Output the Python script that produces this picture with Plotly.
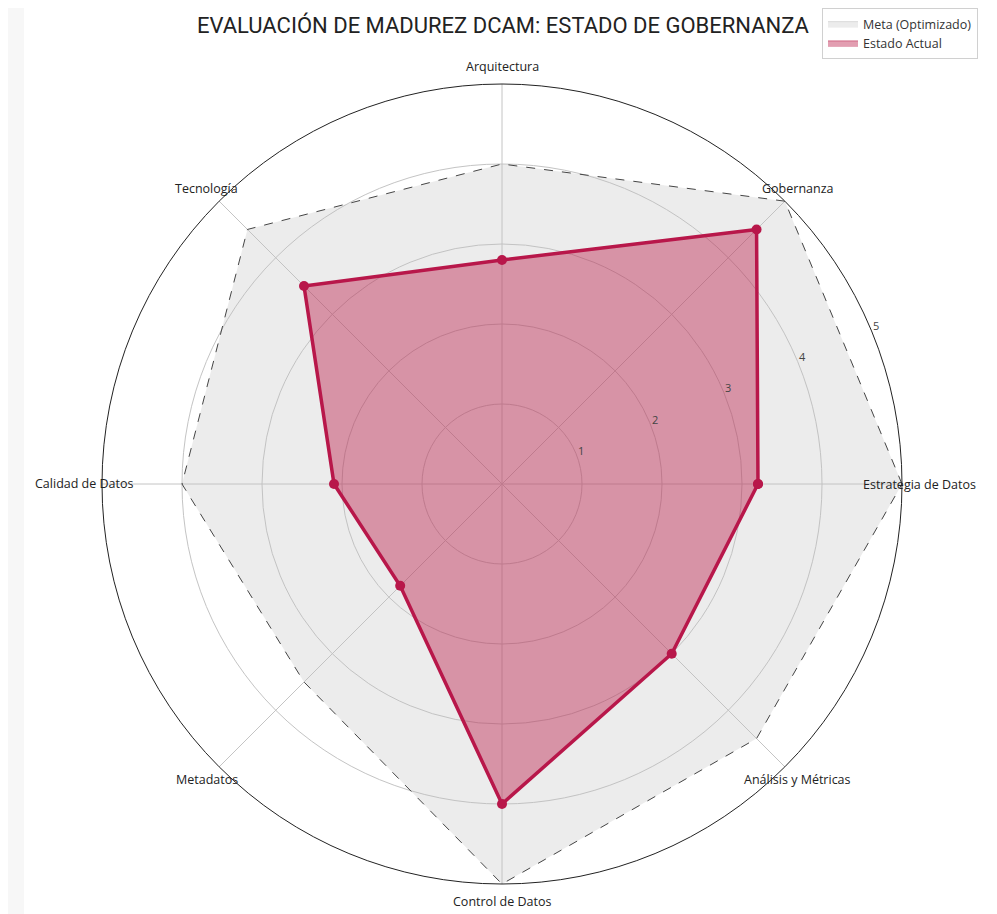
import math
import plotly.graph_objects as go

categories = ["Estrategia de Datos", "Gobernanza", "Arquitectura", "Tecnología",
              "Calidad de Datos", "Metadatos", "Control de Datos", "Análisis y Métricas"]
meta_values = [5.0, 5.0, 4.0, 4.5, 4.0, 3.5, 5.0, 4.5]
actual_values = [3.2, 4.5, 2.8, 3.5, 2.1, 1.8, 4.0, 3.0]
radial_ticks = [1, 2, 3, 4, 5]

title_text = "EVALUACIÓN DE MADUREZ DCAM: ESTADO DE GOBERNANZA"
TITLE_FONT = "Roboto"
FONT = "Open Sans"
W, H = 997, 914
OFF = 8  # page body margin offset
CRIMSON = "#B8174A"
R_MAX = 5.0

# polar placement (figure pixels)
cx_px, cy_px, rad_px = 502 - OFF, 484 - OFF, 400

fig = go.Figure()

theta_closed = categories + [categories[0]]

fig.add_trace(go.Scatterpolar(
    r=meta_values + [meta_values[0]], theta=theta_closed,
    mode="lines", fill="toself",
    fillcolor="rgba(191,191,191,0.30)",
    line=dict(color="#444444", width=1, dash="dash"),
    name="Meta (Optimizado)", showlegend=False, hoverinfo="skip"))

fig.add_trace(go.Scatterpolar(
    r=actual_values + [actual_values[0]], theta=theta_closed,
    mode="lines+markers", fill="toself",
    fillcolor="rgba(186,24,70,0.42)",
    line=dict(color=CRIMSON, width=3.5),
    marker=dict(color=CRIMSON, size=10),
    name="Estado Actual", showlegend=False))

# legend-only entries (patch style)
fig.add_trace(go.Scatterpolar(
    r=[None], theta=[None], mode="lines", fill="toself",
    fillcolor="rgba(191,191,191,0.30)", line=dict(color="rgba(191,191,191,0.5)", width=1),
    name="Meta (Optimizado)"))
fig.add_trace(go.Scatterpolar(
    r=[None], theta=[None], mode="lines", fill="toself",
    fillcolor="rgba(186,24,70,0.42)", line=dict(color="rgba(186,24,70,0.5)", width=1),
    name="Estado Actual"))

dom_x = [(cx_px - rad_px) / W, (cx_px + rad_px) / W]
dom_y = [(H - cy_px - rad_px) / H, (H - cy_px + rad_px) / H]

fig.update_layout(
    width=W, height=H,
    margin=dict(l=0, r=0, t=0, b=0),
    paper_bgcolor="#f7f7f7",
    plot_bgcolor="white",
    font=dict(family=FONT, color="#333333", size=12),
    title=dict(text=title_text, x=(503 - OFF) / W, xanchor="center",
               y=1 - (25 - OFF) / H, yanchor="middle",
               font=dict(family=TITLE_FONT, size=22, color="#222222")),
    polar=dict(
        domain=dict(x=dom_x, y=dom_y),
        bgcolor="rgba(0,0,0,0)",
        angularaxis=dict(
            categoryarray=categories, categoryorder="array",
            direction="counterclockwise", rotation=0,
            showticklabels=False, ticks="",
            showline=True, linecolor="#222222", linewidth=1,
            gridcolor="#c4c4c4", gridwidth=1),
        radialaxis=dict(
            range=[0, R_MAX], tickvals=radial_ticks, angle=22.5,
            showticklabels=False, showline=False, ticks="",
            gridcolor="#c4c4c4", gridwidth=1),
    ),
    legend=dict(x=(978 - OFF) / W, xanchor="right", y=1.0, yanchor="top",
                bgcolor="white", bordercolor="#d0d0d0", borderwidth=1,
                font=dict(family=FONT, size=12.5, color="#333333"), itemwidth=30,
                tracegroupgap=0),
    shapes=[dict(type="rect", xref="paper", yref="paper", layer="below",
                 x0=(24 - OFF) / W, x1=(990 - OFF) / W, y0=0, y1=1,
                 fillcolor="white", line=dict(width=0))],
)

# category labels centred just outside the outer circle
label_r_px = rad_px * 1.043
n = len(categories)
for i, cat in enumerate(categories):
    ang = 2 * math.pi * i / n
    fig.add_annotation(
        text=cat, xref="paper", yref="paper",
        x=(cx_px + label_r_px * math.cos(ang)) / W,
        y=(H - cy_px + label_r_px * math.sin(ang)) / H,
        xanchor="center", yanchor="middle", showarrow=False,
        font=dict(family=FONT, size=12.5, color="#222222"))

# radial tick labels along the 22.5 degree ray
px_per_unit = rad_px / R_MAX
tick_ang = math.radians(23)
for v in radial_ticks:
    rr = v * px_per_unit + 6
    fig.add_annotation(
        text=str(v), xref="paper", yref="paper",
        x=(cx_px + rr * math.cos(tick_ang)) / W,
        y=(H - cy_px + rr * math.sin(tick_ang)) / H,
        xanchor="center", yanchor="middle", showarrow=False,
        font=dict(family=FONT, size=11, color="#444444"))

fig.write_html("out.html")
